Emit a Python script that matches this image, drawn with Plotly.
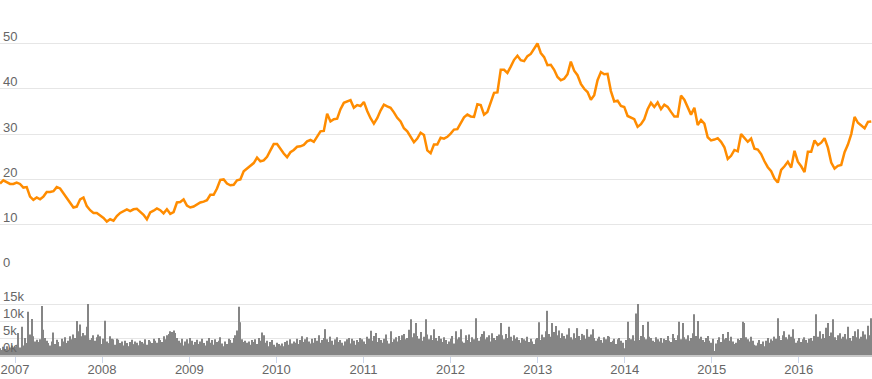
import pandas as pd
import plotly.graph_objects as go

# Price, sampled every 14 days starting 2006-10-30
price_start = "2006-10-30"
price_values = [
    19.1, 19.8, 19.4, 19.0, 19.0, 19.3, 19.0, 18.2, 18.3, 16.2,
    15.5, 16.0, 15.6, 16.2, 17.2, 17.2, 17.4, 18.3, 18.0, 17.0,
    15.8, 15.0, 13.8, 14.0, 15.6, 16.0, 14.1, 13.2, 12.6, 12.6,
    12.1, 11.5, 10.7, 11.2, 10.9, 11.9, 12.6, 13.0, 13.4, 13.0,
    13.4, 13.5, 12.8, 12.2, 11.2, 12.7, 13.1, 13.6, 13.2, 12.5,
    13.4, 12.4, 12.8, 14.9, 15.0, 15.6, 14.2, 13.8, 14.0, 14.4,
    14.9, 15.1, 15.4, 16.6, 16.6, 18.0, 19.9, 20.0, 19.1, 18.7,
    18.8, 19.8, 20.0, 21.8, 22.4, 22.9, 23.6, 24.8, 24.0, 24.2,
    25.0, 26.4, 27.8, 27.8, 26.7, 25.7, 24.9, 26.0, 26.5, 27.2,
    27.3, 27.6, 28.4, 28.7, 28.3, 29.5, 30.6, 30.7, 34.5, 32.8,
    33.3, 33.4, 35.5, 36.9, 37.2, 37.5, 35.8, 36.4, 36.2, 37.1,
    35.1, 33.5, 32.3, 33.5, 35.2, 36.5, 36.1, 35.8, 34.8, 33.6,
    32.8, 31.3, 30.6, 29.3, 28.2, 29.0, 30.3, 29.8, 26.4, 25.8,
    27.7, 27.7, 29.2, 29.0, 29.4, 30.1, 31.0, 31.1, 32.5, 33.7,
    34.3, 33.9, 33.8, 36.6, 36.4, 34.3, 34.9, 37.2, 39.1, 39.2,
    44.2, 44.2, 43.5, 44.9, 46.4, 47.3, 46.3, 46.1, 47.2, 47.7,
    48.8, 50.0, 47.9, 47.0, 45.2, 45.3, 44.2, 42.6, 41.9, 42.2,
    43.2, 46.0, 44.0, 43.0, 41.1, 40.0, 39.3, 37.6, 38.6, 41.9,
    43.7, 43.2, 43.3, 39.5, 37.2, 37.4, 36.2, 36.0, 34.0, 33.7,
    33.3, 31.6, 32.2, 33.3, 35.5, 36.9, 36.0, 37.0, 35.5, 36.5,
    36.0, 34.9, 33.9, 33.9, 38.5, 37.6, 35.8, 34.3, 35.8, 32.0,
    33.1, 32.3, 29.3, 28.6, 28.8, 29.1, 28.3, 27.1, 24.5, 25.2,
    26.5, 26.2, 30.0, 29.2, 28.3, 29.0, 26.8, 26.6, 25.6, 24.0,
    22.7, 21.8, 20.2, 19.3, 22.1, 22.9, 23.9, 22.6, 26.3, 23.9,
    22.9, 21.6, 26.1, 26.1, 28.6, 27.6, 28.1, 29.1, 27.0, 23.7,
    22.4, 23.0, 23.2, 26.0, 27.7, 30.0, 33.8, 32.5, 31.8, 31.3,
    32.7, 32.8,
]

# Weekly volume (thousands), starting 2006-10-30
volume_start = "2006-10-30"
volume_k = [
    2.0, 1.5, 2.4, 1.8, 2.6, 1.4, 2.2, 2.8, 1.9, 2.5,
    3.0, 6.5, 2.2, 8.3, 2.8, 5.0, 3.5, 12.7, 6.0, 10.6,
    5.5, 4.0, 4.5, 3.8, 4.6, 14.4, 7.4, 5.0, 4.2, 3.5,
    2.8, 4.0, 6.6, 3.2, 4.5, 3.8, 2.6, 4.8, 4.0, 5.2,
    3.5, 4.2, 5.5, 4.6, 6.0, 5.0, 10.0, 7.0, 9.0, 5.5,
    6.5, 5.8, 8.3, 15.0, 4.5, 5.0, 5.8, 4.2, 5.2, 6.0,
    5.5, 3.2, 4.8, 10.1, 4.0, 3.5, 5.5, 4.8, 4.6, 3.0,
    4.8, 4.5, 3.5, 4.0, 2.8, 4.2, 3.5, 2.6, 3.8, 4.5,
    3.2, 4.0, 3.6, 2.9, 4.2, 3.8, 3.4, 4.6, 3.0, 4.4,
    4.0, 3.5, 4.8, 4.2, 3.6, 5.0, 4.4, 3.8, 5.5, 4.6,
    5.8, 6.2, 7.0, 6.8, 7.2, 6.5, 5.0, 4.2, 3.6, 4.8,
    2.8, 4.0, 4.6, 3.4, 5.0, 4.2, 3.0, 3.8, 4.5, 3.2,
    4.0, 4.8, 3.5, 2.8, 4.2, 5.0, 3.6, 4.4, 3.0, 4.6,
    3.8, 4.2, 5.2, 3.4, 2.6, 4.0, 3.2, 4.8, 4.4, 3.6,
    5.0, 5.8, 7.2, 14.2, 9.6, 4.6, 3.8, 4.2, 3.6, 4.0,
    3.0, 4.4, 3.8, 4.6, 3.2, 5.0, 4.2, 6.6, 5.8, 3.6,
    4.2, 2.6, 3.8, 4.4, 3.0, 2.4, 3.6, 3.2, 2.8, 3.4,
    2.6, 3.8, 4.2, 3.0, 4.6, 3.4, 4.0, 3.6, 4.8, 3.2,
    4.4, 5.5, 3.8, 4.6, 5.2, 4.0, 3.4, 4.8, 3.6, 5.0,
    4.2, 5.8, 3.6, 4.4, 5.0, 7.6, 4.6, 3.8, 5.4, 4.2,
    3.0, 4.6, 5.2, 3.8, 4.4, 3.6, 2.8, 4.0, 4.6, 5.0,
    3.4, 4.8, 4.2, 3.0, 4.4, 3.8, 5.0, 4.6, 4.0, 3.2,
    5.4, 4.8, 7.1, 4.2, 5.6, 6.5, 3.8, 5.0, 4.4, 3.6,
    4.8, 6.0, 4.2, 3.4, 7.0, 3.8, 4.6, 5.2, 4.0, 5.6,
    4.4, 5.8, 6.2, 4.6, 5.0, 7.4, 10.5, 5.2, 6.4, 9.4,
    5.6, 4.8, 6.8, 4.2, 5.4, 10.5, 6.0, 4.6, 5.8, 4.4,
    7.6, 5.0, 4.2, 5.6, 4.8, 3.8, 5.2, 4.4, 3.2, 4.0,
    4.8, 5.6, 3.4, 7.0, 4.6, 5.2, 7.6, 4.0, 3.6, 5.8,
    4.4, 6.0, 3.8, 5.2, 4.6, 10.8, 5.0, 4.2, 5.4, 6.2,
    7.0, 4.6, 5.2, 5.8, 4.0, 6.4, 5.0, 4.4, 5.6, 6.0,
    9.4, 5.8, 4.6, 6.2, 5.0, 8.3, 5.4, 4.2, 5.8, 4.8,
    5.2, 4.4, 3.6, 5.0, 4.6, 4.2, 5.4, 3.8, 4.8, 4.0,
    3.2, 4.6, 5.0, 9.6, 4.4, 6.0, 5.2, 7.0, 13.0, 6.2,
    5.4, 9.4, 6.8, 8.5, 5.8, 7.2, 5.0, 6.4, 5.6, 4.8,
    6.0, 7.9, 5.2, 4.6, 6.4, 5.0, 7.9, 5.6, 4.4, 6.2,
    5.8, 4.8, 7.6, 5.4, 6.0, 7.6, 5.0, 4.2, 4.8, 5.4,
    4.4, 3.6, 5.2, 4.6, 5.6, 5.4, 3.8, 4.2, 4.8, 3.2,
    4.6, 5.0, 4.2, 3.6, 2.0, 4.4, 9.8, 5.0, 4.6, 5.8,
    4.2, 12.2, 15.0, 4.4, 5.6, 8.8, 5.2, 4.6, 9.8, 5.4,
    5.0, 4.2, 3.8, 5.2, 4.6, 4.0, 5.0, 3.6, 4.8, 4.4,
    5.6, 4.2, 3.8, 6.2, 5.0, 4.4, 5.8, 9.8, 4.6, 9.4,
    5.2, 4.6, 5.8, 4.2, 5.0, 6.4, 12.0, 5.6, 10.0, 4.8,
    5.4, 4.4, 3.8, 5.0, 5.6, 4.2, 3.6, 4.8, 1.2, 3.4,
    4.4, 5.2, 3.8, 6.2, 4.6, 5.0, 6.8, 4.2, 5.4, 4.0,
    3.2, 3.6, 4.8, 4.4, 5.0, 9.8, 9.4, 5.2, 4.6, 4.0,
    5.4, 4.2, 3.0, 2.8, 3.6, 4.4, 3.2, 4.0, 2.6, 4.2,
    5.0, 3.6, 4.6, 4.2, 5.4, 4.8, 10.8, 5.6, 4.4, 5.8,
    7.0, 5.2, 4.6, 6.0, 5.4, 7.6, 4.8, 3.6, 4.2, 5.0,
    3.8, 4.6, 5.2, 4.4, 3.6, 4.8, 5.0, 4.2, 5.6, 12.0,
    5.4, 7.0, 4.8, 6.2, 5.0, 8.0, 9.4, 5.6, 6.6, 10.5,
    5.2, 4.4, 5.8, 6.4, 4.8, 5.4, 6.2, 4.6, 8.3, 5.0,
    4.2, 5.6, 7.0, 5.2, 7.6, 4.8, 5.4, 7.0, 6.0, 4.6,
    8.6, 5.8, 10.8,
]

price_ticks = [0, 10, 20, 30, 40, 50]
volume_ticks = [0, 5, 10, 15, 20]
volume_tick_text = ["0k", "5k", "10k", "15k", ""]
year_ticks = ["2007-01-01", "2008-01-01", "2009-01-01", "2010-01-01", "2011-01-01",
              "2012-01-01", "2013-01-01", "2014-01-01", "2015-01-01", "2016-01-01"]
year_labels = ["2007", "2008", "2009", "2010", "2011",
               "2012", "2013", "2014", "2015", "2016"]
x_range = ["2006-10-30", "2016-11-03"]

price_dates = pd.date_range(price_start, periods=len(price_values), freq="14D")
volume_dates = pd.date_range(volume_start, periods=len(volume_k), freq="7D")

H = 379
font = dict(family="Liberation Sans, Arial, sans-serif", size=13, color="#666666")
grid = "#e6e6e6"

fig = go.Figure()
fig.add_trace(go.Bar(x=volume_dates, y=volume_k, xaxis="x2", yaxis="y2",
                     marker=dict(color="#858585", line=dict(width=0)),
                     hoverinfo="skip"))
fig.add_trace(go.Scatter(x=price_dates, y=price_values, xaxis="x", yaxis="y",
                         mode="lines", line=dict(color="#ff8c00", width=2.5),
                         hoverinfo="skip"))

fig.update_layout(
    width=872, height=H,
    margin=dict(l=0, r=0, t=0, b=0, autoexpand=False),
    paper_bgcolor="white", plot_bgcolor="white",
    showlegend=False, bargap=0.35,
    font=font,
    xaxis=dict(domain=[0, 1], anchor="y", range=x_range, type="date",
               matches="x2", showticklabels=False, showgrid=False,
               zeroline=False, showline=False, ticks="", automargin=False),
    yaxis=dict(domain=[(H - 270) / H, 1], range=[0, 270 / 4.53],
               tickvals=price_ticks, showgrid=True, gridcolor=grid, gridwidth=1,
               zeroline=False, showline=False, ticks="", automargin=False,
               ticklabelposition="inside top", ticklabelshift=2,
               ticklabeloverflow="allow", tickfont=font),
    xaxis2=dict(domain=[0, 1], anchor="y2", range=x_range, type="date",
                tickmode="array", tickvals=year_ticks, ticktext=year_labels,
                showgrid=False, zeroline=False, automargin=False,
                showline=True, linecolor="#c8c8c8", linewidth=2,
                ticks="outside", ticklen=6, tickcolor="#ccd6eb", tickwidth=1,
                ticklabelstandoff=-5, ticklabeloverflow="allow",
                tickfont=font),
    yaxis2=dict(domain=[(H - 355) / H, (H - 287) / H], range=[0, 20],
                tickvals=volume_ticks, ticktext=volume_tick_text,
                showgrid=True, gridcolor=grid, gridwidth=1,
                zeroline=False, showline=False, ticks="", automargin=False,
                ticklabelposition="inside top", ticklabelshift=2,
                ticklabeloverflow="allow", tickfont=font),
)

fig.write_html(
    "out.html",
    config={"displayModeBar": False},
    post_script="document.body.style.margin='0';document.body.style.overflow='hidden';",
)
